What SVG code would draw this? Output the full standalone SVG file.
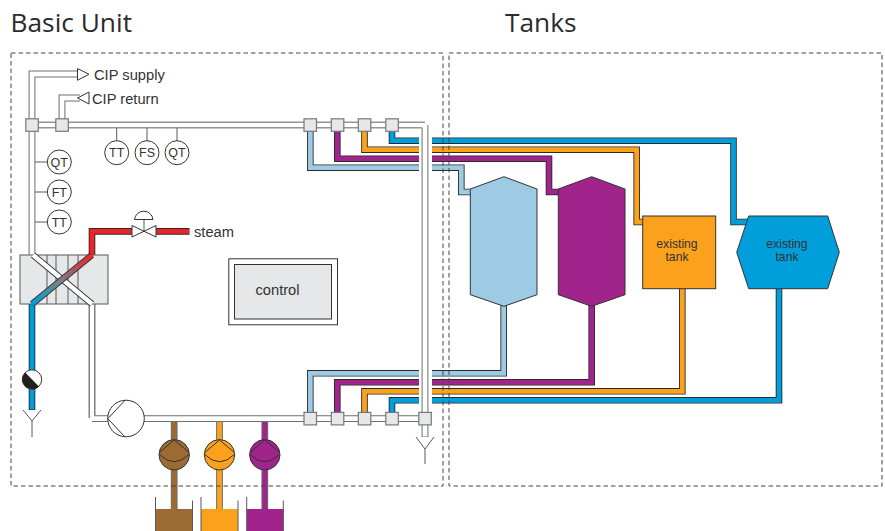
<svg xmlns="http://www.w3.org/2000/svg" width="885" height="531" viewBox="0 0 885 531">
<style>
text{font-family:"Liberation Sans",Arial,sans-serif;fill:#333}
.title{font-family:"Open Sans","Noto Sans",sans-serif;font-size:26.300px;fill:#2b2b2b}
.lab{font-size:14.700px}
.ins{font-size:12.500px;text-anchor:middle}
.tk{font-size:12.200px;text-anchor:middle}
.o{fill:none;stroke:#2b2a2b;stroke-width:6.600}
.g{fill:none;stroke:#6d6e70;stroke-width:6.800}
.i{fill:none;stroke-width:4.800}
.w{stroke:#fff}.lb{stroke:#9ccbe3}.pu{stroke:#a0248c}.or{stroke:#fba11b}.bl{stroke:#009fdb}.re{stroke:#ee2229}.br{stroke:#9c6b33}
.box{fill:#e6e7e8;stroke:#77787a;stroke-width:1.200}
.inst{fill:#fff;stroke:#333;stroke-width:1}
.thin{fill:none;stroke:#58595b;stroke-width:1}
.dash{fill:none;stroke:#444;stroke-width:1;stroke-dasharray:4.500 3}
.sk{stroke:#333;stroke-width:1}
</style>
<defs>
<linearGradient id="hx" gradientUnits="userSpaceOnUse" x1="92" y1="255" x2="32" y2="304"><stop offset="0" stop-color="#ee2229"/><stop offset=".55" stop-color="#77828a"/><stop offset="1" stop-color="#009fdb"/></linearGradient>
</defs>
<text class="title" x="10.500" y="32.300">Basic Unit</text>
<text class="title" x="505" y="32.300">Tanks</text>
<g id="connectors">
<g id="pipes-tanks">
<path class="o" d="M310.300 125V167.700H461.300V192H471"/><path class="i lb" d="M310.300 125V167.700H461.300V192H471"/>
<path class="o" d="M337.300 125V158.700H549V192H559"/><path class="i pu" d="M337.300 125V158.700H549V192H559"/>
<path class="o" d="M364.500 125V149.700H636.700V222H643"/><path class="i or" d="M364.500 125V149.700H636.700V222H643"/>
<path class="o" d="M392 125V140.700H733.500V222H748"/><path class="i bl" d="M392 125V140.700H733.500V222H748"/>
<path class="o" d="M310.300 419V373.300H503.700V305"/><path class="i lb" d="M310.300 419V373.300H503.700V305"/>
<path class="o" d="M337.300 419V382.300H591.700V305"/><path class="i pu" d="M337.300 419V382.300H591.700V305"/>
<path class="o" d="M364.500 419V391.300H682.300V288"/><path class="i or" d="M364.500 419V391.300H682.300V288"/>
<path class="o" d="M392 419V400.300H779V288"/><path class="i bl" d="M392 419V400.300H779V288"/>
<rect x="419" y="134" width="13" height="40" fill="#fff"/>
<rect x="419" y="367" width="13" height="40" fill="#fff"/>
</g>
<g id="pipes-main">
<path class="g" d="M32 255V74H78"/><path class="i w" d="M32 255V74H78"/>
<path class="g" d="M62 125V98H80"/><path class="i w" d="M62 125V98H80"/>
<path class="o" d="M32 125H425"/>
<path class="g" d="M425 125V437"/><path class="i w" d="M32 125H425V436.500"/>
<path class="o" d="M92 304V418"/><path class="g" d="M92 418.700H425"/><path class="i w" d="M92 304V418.700H425"/>
</g>
<g id="pipes-dosing">
<path class="g" d="M174.200 422V512"/><path class="i br" d="M174.200 422V512"/>
<path class="g" d="M219.500 422V512"/><path class="i or" d="M219.500 422V512"/>
<path class="g" d="M264.800 422V512"/><path class="i pu" d="M264.800 422V512"/>
</g>
<g id="pipes-heat">
<path class="o" d="M92 255V231.400H132"/><path class="i re" d="M92 255V231.400H132"/>
<path class="o" d="M156 231.400H189.500"/><path class="i re" d="M156 231.400H189"/>
<path class="o" d="M32 304V410"/><path class="i bl" d="M32 304V409.500"/>
</g>
</g>
<g id="heat-exchanger">
<rect x="20" y="255" width="88" height="49" fill="#e6e7e8" stroke="#58595b" stroke-width="1"/>
<path class="thin" d="M47 255V304M56 255V304M68 255V304M78 255V304"/>
<path d="M33 255L92 304" fill="none" stroke="#333" stroke-width="6.400"/>
<path d="M33 255L92 304" fill="none" stroke="#fff" stroke-width="4.600"/>
<path d="M92 255L32 304" fill="none" stroke="#333" stroke-width="6.400"/>
<path d="M92 255L32 304" fill="none" stroke="url(#hx)" stroke-width="4.600"/>
</g>
<g id="junctions">
<rect class="box" x="25.800" y="118.800" width="12.500" height="12.500"/>
<rect class="box" x="55.800" y="118.800" width="12.500" height="12.500"/>
<rect class="box" x="304" y="118.800" width="12.500" height="12.500"/>
<rect class="box" x="331.300" y="118.800" width="12.500" height="12.500"/>
<rect class="box" x="358.300" y="118.800" width="12.500" height="12.500"/>
<rect class="box" x="385.800" y="118.800" width="12.500" height="12.500"/>
<rect class="box" x="304" y="412.400" width="12.500" height="12.500"/>
<rect class="box" x="331.300" y="412.400" width="12.500" height="12.500"/>
<rect class="box" x="358.300" y="412.400" width="12.500" height="12.500"/>
<rect class="box" x="385.800" y="412.400" width="12.500" height="12.500"/>
<rect class="box" x="418.800" y="412.400" width="12.500" height="12.500"/>
</g>
<g id="cip-supply">
<path d="M77.500 68.500L89 74.300L77.500 80.300Z" fill="#fff" stroke="#333" stroke-width="1"/>
<text class="lab" x="94" y="80">CIP supply</text>
</g>
<g id="cip-return">
<path d="M77.500 98L89 92V104Z" fill="#fff" stroke="#333" stroke-width="1"/>
<text class="lab" x="92" y="103.500">CIP return</text>
</g>
<g id="instruments">
<path class="thin" d="M116.700 128V141M147 128V141M177 128V141M35 162H47M35 192H47M35 222H47"/>
<g id="inst-tt1"><circle class="inst" cx="116.700" cy="152.700" r="12"/><text class="ins" x="116.700" y="157">TT</text></g>
<g id="inst-fs"><circle class="inst" cx="147" cy="152.700" r="12"/><text class="ins" x="147" y="157">FS</text></g>
<g id="inst-qt1"><circle class="inst" cx="177" cy="152.700" r="12"/><text class="ins" x="177" y="157">QT</text></g>
<g id="inst-qt2"><circle class="inst" cx="59.300" cy="162" r="12"/><text class="ins" x="59.300" y="166.500">QT</text></g>
<g id="inst-ft"><circle class="inst" cx="59.300" cy="192" r="12"/><text class="ins" x="59.300" y="196.500">FT</text></g>
<g id="inst-tt2"><circle class="inst" cx="59.300" cy="222" r="12"/><text class="ins" x="59.300" y="226.500">TT</text></g>
</g>
<g id="steam-valve">
<path d="M144 219V231" class="thin"/>
<path d="M134.500 219.500A9.300 9.300 0 0 1 153 219.500Z" fill="#fff" stroke="#333" stroke-width="1"/>
<path d="M132 225.500L156 237V225.500L132 237Z" fill="#fff" stroke="#333" stroke-width="1"/>
<text class="lab" x="194" y="236.500">steam</text>
</g>
<g id="control">
<rect x="228.800" y="258.800" width="108.700" height="66" fill="#fff" stroke="#333" stroke-width="1"/>
<rect x="234.500" y="264.500" width="97" height="54.500" fill="#e6e7e8" stroke="#333" stroke-width="1"/>
<text x="277.500" y="295" font-size="14.700" text-anchor="middle">control</text>
</g>
<g id="circulation-pump">
<circle class="inst" cx="126" cy="418.500" r="18.300"/>
<path class="sk" fill="none" d="M125 400.300L107.800 418.700L125 437"/>
</g>
<g id="cooling-valve">
<circle cx="32" cy="379.500" r="9.700" fill="#fff" stroke="#333" stroke-width="1"/>
<path d="M25.200 372.600A9.700 9.700 0 0 0 38.900 386.400Z" fill="#231f20"/>
</g>
<g id="drains">
<path class="thin" d="M23 410L32 421L41 410M32 421V437"/>
<path class="thin" d="M416 437L425 449L434 437M425 449V464"/>
</g>
<g id="dosing-pump-brown">
<circle cx="174.200" cy="454.800" r="15.200" fill="#9c6b33" stroke="#333" stroke-width="1"/>
<path class="sk" fill="none" d="M160 452L174.200 440L188.500 452M159.500 454.500Q174.200 469 189 454.500"/>
</g>
<g id="dosing-pump-orange">
<circle cx="219.500" cy="454.800" r="15.200" fill="#fba11b" stroke="#333" stroke-width="1"/>
<path class="sk" fill="none" d="M205.300 452L219.500 440L233.800 452M204.800 454.500Q219.500 469 234.300 454.500"/>
</g>
<g id="dosing-pump-purple">
<circle cx="264.800" cy="454.800" r="15.200" fill="#a0248c" stroke="#333" stroke-width="1"/>
<path class="sk" fill="none" d="M250.600 452L264.800 440L279.100 452M250.100 454.500Q264.800 469 279.600 454.500"/>
</g>
<g id="container-brown">
<rect x="155.500" y="509" width="37" height="22" fill="#9c6b33"/>
<path class="thin" d="M155.500 497V531M192.500 500.500V531"/>
</g>
<g id="container-orange">
<rect x="201" y="509" width="37" height="22" fill="#fba11b"/>
<path class="thin" d="M201 497V531M238 500.500V531"/>
</g>
<g id="container-purple">
<rect x="246.700" y="509" width="37" height="22" fill="#a0248c"/>
<path class="thin" d="M246.700 497V531M283.300 500.500V531"/>
</g>
<g id="tank-lightblue">
<path d="M470.300 189L504 176.700L537 189V294.700L504 306.300L470.300 294.700Z" fill="#9ccbe3" stroke="#333" stroke-width="1"/>
</g>
<g id="tank-purple">
<path d="M558.300 189L591.700 176.700L625 189V294.700L591.700 306.300L558.300 294.700Z" fill="#a0248c" stroke="#333" stroke-width="1"/>
</g>
<g id="tank-existing-orange">
<rect x="642.700" y="216" width="73" height="72.700" fill="#fba11b" stroke="#333" stroke-width="1"/>
<text class="tk"><tspan x="677" y="247.500">existing</tspan><tspan x="677" y="260.500">tank</tspan></text>
</g>
<g id="tank-existing-blue">
<path d="M748.700 216H827.700L839.300 252.300L827.700 288.700H748.700L736.700 252.300Z" fill="#009fdb" stroke="#333" stroke-width="1"/>
<text class="tk"><tspan x="787" y="247.500">existing</tspan><tspan x="787" y="260.500">tank</tspan></text>
</g>
<g id="regions">
<rect class="dash" x="11" y="53" width="432" height="433"/>
<rect class="dash" x="449" y="53" width="433" height="433"/>
</g>
</svg>
